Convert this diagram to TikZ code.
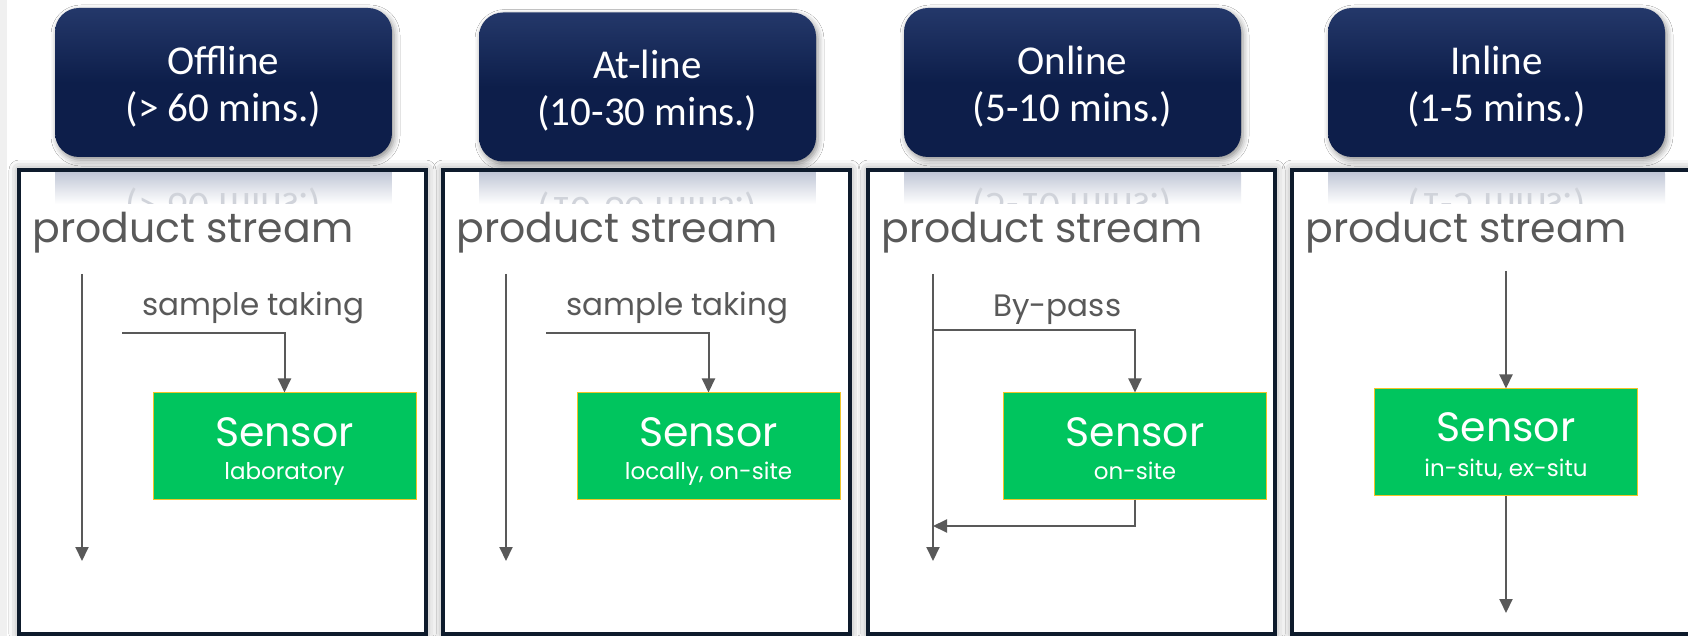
\documentclass[tikz,border=0pt]{standalone}
\usepackage{fontspec}
\setmainfont{Poppins}
\newfontfamily\headfont{Carlito}
\usetikzlibrary{positioning,arrows.meta,calc,shadows.blur}

\definecolor{navydark}{RGB}{13,30,74}
\definecolor{navylight}{RGB}{36,56,106}
\definecolor{framecol}{RGB}{14,27,44}
\definecolor{flowgray}{RGB}{89,89,89}
\definecolor{sensorgreen}{RGB}{0,197,94}
\definecolor{sensoredge}{RGB}{240,196,40}
\definecolor{reflcol}{RGB}{150,160,186}
\definecolor{refltext}{RGB}{208,211,218}
\definecolor{sidegray}{RGB}{240,240,240}

\tikzset{
  headtext/.style={align=center, inner sep=0pt, text=white, font=\headfont\fontsize{20.5}{23.5}\selectfont},
  headbox/.style={rounded corners=12pt, minimum width=168.5pt, minimum height=74.5pt,
    top color=navylight, bottom color=navydark, middle color=navydark,
    blur shadow={shadow xshift=1pt, shadow yshift=-1.5pt, shadow blur radius=3pt, shadow opacity=45}},
  panel/.style={draw=framecol, line width=2pt, fill=white, minimum width=203.5pt, minimum height=232pt,
    blur shadow={shadow xshift=0pt, shadow yshift=0pt, shadow blur radius=5pt, shadow opacity=45}},
  streamlabel/.style={anchor=base west, inner sep=0pt, text=flowgray, font=\fontsize{20.5}{24}\selectfont},
  taplabel/.style={anchor=base west, inner sep=0pt, text=flowgray, font=\fontsize{15.5}{18}\selectfont},
  sensorbox/.style={fill=sensorgreen, draw=sensoredge, line width=0.5pt, minimum width=131.5pt, minimum height=53pt},
  sensortitle/.style={anchor=base, inner sep=0pt, text=white, font=\fontsize{20.5}{24}\selectfont},
  sensorsub/.style={anchor=base, inner sep=0pt, text=white, font=\fontsize{11.5}{14}\selectfont},
  flow/.style={draw=flowgray, line width=1pt, -{Triangle[width=6.5pt,length=7pt]}}
}

\begin{document}
\begin{tikzpicture}[x=0.5pt, y=-0.5pt]
\useasboundingbox (0,0) rectangle (1688,636);
\fill[white] (0,0) rectangle (1688,636);
\fill[sidegray] (0,0) rectangle (7,636);

% panels with their header buttons (and the faded mirror image below each)
\foreach \i/\dx/\hy/\hname/\htime in {1/0/82.5/Offline/{(> 60 mins.)},
    2/424/87/At-line/{(10-30 mins.)}, 3/849/82.5/Online/{(5-10 mins.)},
    4/1273/82.5/Inline/{(1-5 mins.)}}{
  \node[panel] (frame\i) at ({222.5+\dx},402) {};
  \begin{scope}
    \clip[rounded corners=12pt] ({55+\dx},150) rectangle ({392+\dx},320);
    \clip ({40+\dx},173) rectangle ({410+\dx},204);
    \fill[top color=reflcol, bottom color=white] ({55+\dx},150) rectangle ({392+\dx},204);
    \node[headtext, yscale=-1, text=refltext] (mirror\i) at ({223.5+\dx},{\hy+145.5}) {\hname\\\htime};
  \end{scope}
  \node[headbox] (head\i) at ({223.5+\dx},\hy) {};
  \node[headtext] (headt\i) at ([yshift=-2pt]head\i.center) {\hname\\\htime};
  \node[streamlabel] (stream\i) at ({32+\dx},243) {product stream};
}

% sensors
\node[sensorbox] (sen1) at (284.5,446) {};
\node[sensortitle] (sen1t) at (sen1.center) {Sensor};
\node[sensorsub] (sen1s) at ([yshift=-17pt]sen1.center) {laboratory};
\node[sensorbox] (sen2) at (708.5,446) {};
\node[sensortitle] (sen2t) at (sen2.center) {Sensor};
\node[sensorsub] (sen2s) at ([yshift=-17pt]sen2.center) {locally, on-site};
\node[sensorbox] (sen3) at (1135,446) {};
\node[sensortitle] (sen3t) at (sen3.center) {Sensor};
\node[sensorsub] (sen3s) at ([yshift=-17pt]sen3.center) {on-site};
\node[sensorbox] (sen4) at (1506,442) {};
\node[sensortitle] (sen4t) at (sen4.center) {Sensor};
\node[sensorsub] (sen4s) at ([yshift=-17pt]sen4.center) {in-situ, ex-situ};

% offline: sample taken off the stream
\coordinate (in1) at (82,274);
\coordinate (out1) at (82,561);
\coordinate (tap1) at (122,333);
\draw[flow] (in1) -- (out1);
\draw[flow] (tap1) -| (sen1.north);
\node[taplabel] (tap1l) at (142,316) {sample taking};

% at-line
\coordinate (in2) at (506,274);
\coordinate (out2) at (506,561);
\coordinate (tap2) at (546,333);
\draw[flow] (in2) -- (out2);
\draw[flow] (tap2) -| (sen2.north);
\node[taplabel] (tap2l) at (566,316) {sample taking};

% online: by-pass loop back into the stream
\coordinate (in3) at (933,274);
\coordinate (out3) at (933,561);
\coordinate (tap3) at (933,330);
\coordinate (back3) at (933,526);
\draw[flow] (in3) -- (out3);
\draw[flow] (tap3) -| (sen3.north);
\draw[flow] (sen3.south) |- (back3);
\node[taplabel] (tap3l) at (993,317) {By-pass};

% inline: sensor sits in the stream
\coordinate (in4) at (1506,271);
\coordinate (out4) at (1506,613);
\draw[flow] (in4) -- (sen4.north);
\draw[flow] (sen4.south) -- (out4);
\end{tikzpicture}
\end{document}
